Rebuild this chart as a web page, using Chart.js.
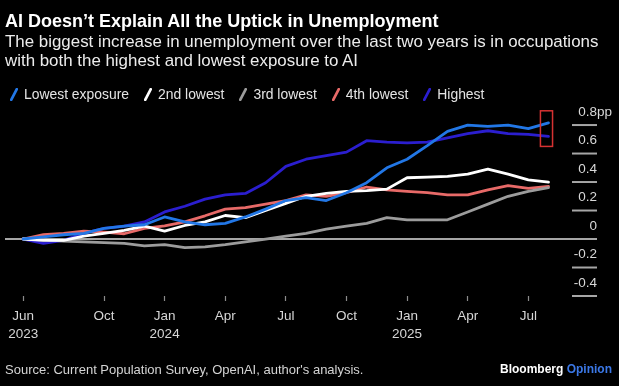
<!DOCTYPE html>
<html><head><meta charset="utf-8">
<script src="https://cdn.jsdelivr.net/npm/chart.js@4"></script>
<style>
html,body{margin:0;padding:0;background:#000;}
#wrap{position:relative;width:619px;height:386px;overflow:hidden;background:#000;font-family:"Liberation Sans",Arial,sans-serif;}
#c{position:absolute;left:0;top:0;}
.t{position:absolute;left:5px;white-space:nowrap;}
#title{top:9.5px;font-size:18px;line-height:22px;font-weight:bold;color:#fff;}
#sub{top:33.3px;font-size:16.9px;line-height:18.4px;color:#ececec;}
#legend{left:10px;top:86px;font-size:13.9px;line-height:16px;color:#e4e4e4;display:flex;}
.li{display:flex;align-items:center;margin-right:15px;}
.li svg{margin-right:6px;display:block;}
#src{top:362px;font-size:13px;line-height:16px;color:#d4d4d4;}
#brand{position:absolute;right:7px;top:360.5px;font-size:12px;line-height:16px;font-weight:bold;color:#fff;white-space:nowrap;}
#brand span{color:#3b78e7;}
</style>
</head>
<body>
<div id="wrap">
  <canvas id="c" width="619" height="386"></canvas>
  <div class="t" id="title">AI Doesn’t Explain All the Uptick in Unemployment</div>
  <div class="t" id="sub">The biggest increase in unemployment over the last two years is in occupations<br>with both the highest and lowest exposure to AI</div>
  <div class="t" id="legend"></div>
  <div class="t" id="src">Source: Current Population Survey, OpenAI, author's analysis.</div>
  <div id="brand">Bloomberg <span>Opinion</span></div>
</div>
<script>
// Months: Jun 2023 ... Aug 2025 (index 0..26)
const months = ['2023-06','2023-07','2023-08','2023-09','2023-10','2023-11','2023-12',
  '2024-01','2024-02','2024-03','2024-04','2024-05','2024-06','2024-07','2024-08','2024-09','2024-10','2024-11','2024-12',
  '2025-01','2025-02','2025-03','2025-04','2025-05','2025-06','2025-07','2025-08'];

const seriesNames = ['Lowest exposure','2nd lowest','3rd lowest','4th lowest','Highest'];
const seriesColors = ['#2277e6','#ffffff','#9c9c9c','#e86a68','#2b1ecf'];

const lowest  = [0, 0.015, 0.03, 0.04, 0.075, 0.09, 0.10, 0.155, 0.12, 0.10, 0.11, 0.155, 0.21, 0.27, 0.29, 0.27, 0.325, 0.395, 0.50, 0.56, 0.655, 0.755, 0.80, 0.79, 0.80, 0.775, 0.815];
const second  = [0, -0.01, -0.01, 0.02, 0.04, 0.06, 0.09, 0.055, 0.095, 0.12, 0.165, 0.15, 0.20, 0.25, 0.30, 0.32, 0.335, 0.34, 0.35, 0.43, 0.435, 0.44, 0.455, 0.49, 0.455, 0.415, 0.40];
const third   = [0, -0.005, -0.015, -0.02, -0.025, -0.03, -0.048, -0.04, -0.06, -0.055, -0.04, -0.02, 0, 0.02, 0.04, 0.07, 0.09, 0.11, 0.15, 0.135, 0.135, 0.135, 0.19, 0.245, 0.30, 0.335, 0.36];
const fourth  = [0, 0.03, 0.04, 0.055, 0.048, 0.037, 0.075, 0.092, 0.12, 0.163, 0.21, 0.22, 0.245, 0.27, 0.31, 0.30, 0.325, 0.365, 0.345, 0.335, 0.325, 0.31, 0.31, 0.345, 0.375, 0.355, 0.37];
const highest = [0, -0.03, -0.01, 0.04, 0.075, 0.09, 0.12, 0.19, 0.23, 0.28, 0.31, 0.32, 0.395, 0.51, 0.56, 0.585, 0.61, 0.69, 0.68, 0.675, 0.68, 0.71, 0.74, 0.76, 0.74, 0.735, 0.72];

const xTickPos    = [0, 4, 7, 10, 13, 16, 19, 22, 25];
const xTickLabels = [['Jun','2023'],'Oct',['Jan','2024'],'Apr','Jul','Oct',['Jan','2025'],'Apr','Jul'];
const yTicks      = [0.8, 0.6, 0.4, 0.2, 0, -0.2, -0.4];
const yUnit       = 'pp';
// highlight box around the latest readings (x in month index, y in pp)
const highlight   = {x0: 25.6, x1: 26.2, y0: 0.65, y1: 0.9};

const allSeries = [lowest, second, third, fourth, highest];

// HTML legend
const lg = document.getElementById('legend');
seriesNames.forEach((n, i) => {
  const d = document.createElement('div');
  d.className = 'li';
  d.innerHTML = '<svg width="8" height="13"><line x1="1.2" y1="11.8" x2="6.8" y2="1.2" stroke="' + seriesColors[i] + '" stroke-width="2.7" stroke-linecap="round"/></svg><span>' + n + '</span>';
  lg.appendChild(d);
});

const FONT = '"Liberation Sans", Arial, sans-serif';

const refLines = {
  id: 'refLines',
  beforeDatasetsDraw(chart) {
    const {ctx, chartArea: a, scales: {y}} = chart;
    ctx.save();
    ctx.strokeStyle = '#a6a6a6';
    ctx.lineWidth = 2;
    yTicks.forEach(v => {
      const py = y.getPixelForValue(v);
      ctx.beginPath();
      ctx.moveTo(v === 0 ? a.left : a.right - 25, py);
      ctx.lineTo(a.right, py);
      ctx.stroke();
    });
    ctx.fillStyle = '#d8d8d8';
    ctx.font = '13.5px ' + FONT;
    ctx.textBaseline = 'middle';
    ctx.textAlign = 'right';
    yTicks.forEach(v => {
      ctx.fillText(v === 0 ? '0' : String(v), a.right, y.getPixelForValue(v) - 13);
    });
    ctx.textAlign = 'left';
    ctx.fillText(yUnit, a.right, y.getPixelForValue(yTicks[0]) - 13);
    ctx.restore();
  },
  afterDatasetsDraw(chart) {
    const {ctx, scales: {x, y}} = chart;
    const l = x.getPixelForValue(highlight.x0), r = x.getPixelForValue(highlight.x1);
    const t = y.getPixelForValue(highlight.y1), b = y.getPixelForValue(highlight.y0);
    ctx.save();
    ctx.strokeStyle = '#d63232';
    ctx.lineWidth = 1.5;
    ctx.strokeRect(l, t, r - l, b - t);
    ctx.restore();
  }
};

new Chart(document.getElementById('c'), {
  type: 'line',
  data: {
    datasets: allSeries.map((s, i) => ({
      label: seriesNames[i],
      data: s.map((v, k) => ({x: k, y: v})),
      borderColor: seriesColors[i],
      backgroundColor: seriesColors[i],
      borderWidth: 2.8,
      pointRadius: 0,
      pointHoverRadius: 0,
      tension: 0,
      borderJoinStyle: 'round',
      borderCapStyle: 'round',
      fill: false
    }))
  },
  options: {
    responsive: false,
    animation: false,
    devicePixelRatio: 1,
    layout: {padding: {left: 5, right: 22, top: 110.8, bottom: 37}},
    plugins: {legend: {display: false}, tooltip: {enabled: false}, title: {display: false}},
    scales: {
      x: {
        type: 'linear', min: -0.9, max: 28.4,
        afterBuildTicks: s => { s.ticks = xTickPos.map(v => ({value: v})); },
        afterFit: s => { s.paddingLeft = 0; s.paddingRight = 0; },
        ticks: {
          autoSkip: false, maxRotation: 0, minRotation: 0, padding: 6,
          color: '#d6d6d6',
          font: {family: FONT, size: 13.5, lineHeight: '18px'},
          callback: (v, i) => xTickLabels[i]
        },
        grid: {drawOnChartArea: false, drawTicks: true, tickLength: 5, tickColor: '#8c8c8c', tickWidth: 1.2},
        border: {display: false}
      },
      y: {
        type: 'linear', min: -0.4, max: 0.9, display: false
      }
    }
  },
  plugins: [refLines]
});
</script>
</body></html>
